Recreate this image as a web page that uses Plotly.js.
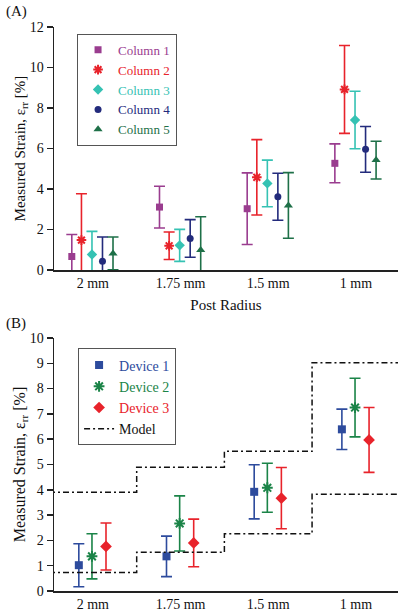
<!DOCTYPE html>
<html>
<head>
<meta charset="utf-8">
<script src="https://cdn.plot.ly/plotly-3.0.1.min.js"></script>
<style>html,body{margin:0;padding:0;background:#fff;}#chart{width:402px;height:612px;}</style>
</head>
<body>
<div id="chart"></div>
<script>
// ---- Data ----
var categories = ['2 mm', '1.75 mm', '1.5 mm', '1 mm'];

// Panel A: columns (mean and error)
var col1Mean = [0.67, 3.11, 3.03, 5.27];
var col1Err  = [1.09, 1.03, 1.77, 0.96];
var col2Mean = [1.48, 1.20, 4.58, 8.92];
var col2Err  = [2.29, 0.68, 1.86, 2.17];
var col3Mean = [0.77, 1.22, 4.28, 7.41];
var col3Err  = [1.14, 0.79, 1.15, 1.42];
var col4Mean = [0.43, 1.56, 3.62, 5.96];
var col4Err  = [1.20, 0.93, 1.16, 1.13];
var col5Mean = [0.82, 0.99, 3.19, 5.43];
var col5Err  = [0.81, 1.64, 1.62, 0.93];

// Panel B: devices (mean and error)
var dev1Mean = [1.02, 1.37, 3.92, 6.39];
var dev1Err  = [0.85, 0.80, 1.07, 0.80];
var dev2Mean = [1.37, 2.67, 4.08, 7.25];
var dev2Err  = [0.89, 1.09, 0.97, 1.16];
var dev3Mean = [1.76, 1.90, 3.67, 5.97];
var dev3Err  = [0.93, 0.94, 1.21, 1.28];

// Model bounds per category
var modelUpper = [3.90, 4.89, 5.52, 9.02];
var modelLower = [0.73, 1.53, 2.26, 3.82];

// ---- Helpers ----
var FONT = 'Liberation Serif, Times New Roman, serif';
var catIdx = categories.map(function (c, i) { return i + 1; });
function shifted(off) { return catIdx.map(function (v) { return v + off; }); }
function colored(name, color) { return '<span style="color:' + color + '">' + name + '</span>'; }

function errTrace(name, color, mean, err, off, symbol, xa, ya, legend, size) {
  var open = symbol.indexOf('open') >= 0;
  return {
    type: 'scatter', mode: 'markers', name: colored(name, color),
    x: shifted(off), y: mean, xaxis: xa, yaxis: ya, legend: legend,
    marker: { symbol: symbol, size: size || 7, color: color,
              line: { color: color, width: open ? 2 : 0 } },
    error_y: { type: 'data', array: err, visible: true, color: color, thickness: 1.6, width: 5.5 },
    hoverinfo: 'skip'
  };
}

var cA = { c1: '#9a3d8f', c2: '#e8232b', c3: '#35c2b3', c4: '#232b7c', c5: '#1e7048' };
var cB = { d1: '#2d4b9d', d2: '#1b8448', d3: '#e8232b' };

var traces = [
  errTrace('Column 1', cA.c1, col1Mean, col1Err, -0.24, 'square', 'x', 'y', 'legend', 7),
  errTrace('Column 2', cA.c2, col2Mean, col2Err, -0.13, 'asterisk-open', 'x', 'y', 'legend', 8),
  errTrace('Column 3', cA.c3, col3Mean, col3Err, -0.01, 'diamond', 'x', 'y', 'legend', 8),
  errTrace('Column 4', cA.c4, col4Mean, col4Err, 0.11, 'circle', 'x', 'y', 'legend', 7),
  errTrace('Column 5', cA.c5, col5Mean, col5Err, 0.23, 'triangle-up', 'x', 'y', 'legend', 8),
  errTrace('Device 1', cB.d1, dev1Mean, dev1Err, -0.16, 'square', 'x2', 'y2', 'legend2', 8),
  errTrace('Device 2', cB.d2, dev2Mean, dev2Err, -0.01, 'asterisk-open', 'x2', 'y2', 'legend2', 9),
  errTrace('Device 3', cB.d3, dev3Mean, dev3Err, 0.15, 'diamond', 'x2', 'y2', 'legend2', 9)
];

// Model step lines: edges between categories
var edges = [0.5].concat(catIdx.map(function (v) { return v + 0.5; }));
function stepY(arr) { return arr.concat([arr[arr.length - 1]]); }
var modelLine = { color: '#111', width: 1.5, dash: '6px,3px,2px,3px', shape: 'hv' };
traces.push({
  type: 'scatter', mode: 'lines', name: 'Model', x: edges, y: stepY(modelUpper),
  xaxis: 'x2', yaxis: 'y2', legend: 'legend2', line: modelLine, hoverinfo: 'skip'
});
traces.push({
  type: 'scatter', mode: 'lines', name: 'Model', x: edges, y: stepY(modelLower),
  xaxis: 'x2', yaxis: 'y2', legend: 'legend2', showlegend: false, line: modelLine, hoverinfo: 'skip'
});

var xRange = [0.557, 4.48];
function xAxis(anchor, title) {
  var ax = {
    anchor: anchor, range: xRange, tickmode: 'array', tickvals: catIdx, ticktext: categories,
    showline: true, linecolor: '#222', linewidth: 1.5, ticks: '', showgrid: false, zeroline: false,
    tickfont: { family: FONT, size: 14, color: '#111' }
  };
  if (title) ax.title = { text: title, font: { family: FONT, size: 15, color: '#111' }, standoff: 9 };
  return ax;
}
function yAxis(anchor, domain, range, dtick, tsize) {
  return {
    anchor: anchor, domain: domain, range: range, dtick: dtick, tick0: 0,
    showline: true, linecolor: '#222', linewidth: 1.5, ticks: 'outside', ticklen: 6, tickwidth: 1.5,
    tickcolor: '#222', showgrid: false, zeroline: false,
    tickfont: { family: FONT, size: 14, color: '#111' },
    title: { text: 'Measured Strain, ε<sub>rr</sub> [%]', font: { family: FONT, size: tsize, color: '#111' }, standoff: 0 }
  };
}

var layout = {
  width: 402, height: 612,
  margin: { l: 54, r: 4, t: 27, b: 21 },
  paper_bgcolor: '#fff', plot_bgcolor: '#fff',
  font: { family: FONT, color: '#111' },
  xaxis: xAxis('y', 'Post Radius'),
  yaxis: yAxis('x', [0.569, 1], [0, 12], 2, 15),
  xaxis2: xAxis('y2', null),
  yaxis2: yAxis('x2', [0, 0.4486], [0, 10], 1, 16),
  legend: {
    x: 0.067, y: 0.988, xanchor: 'left', yanchor: 'top',
    bgcolor: '#fff', bordercolor: '#555', borderwidth: 1,
    font: { family: FONT, size: 13 }, itemwidth: 30, tracegroupgap: 0
  },
  legend2: {
    x: 0.07, y: 0.43, xanchor: 'left', yanchor: 'top',
    bgcolor: '#fff', bordercolor: '#555', borderwidth: 1,
    font: { family: FONT, size: 14 }, itemwidth: 30, tracegroupgap: 0
  },
  showlegend: true,
  annotations: [
    { text: '(A)', xref: 'paper', yref: 'paper', x: -0.145, y: 1.027, xanchor: 'left', yanchor: 'middle',
      showarrow: false, font: { family: FONT, size: 15, color: '#111' } },
    { text: '(B)', xref: 'paper', yref: 'paper', x: -0.145, y: 0.474, xanchor: 'left', yanchor: 'middle',
      showarrow: false, font: { family: FONT, size: 15, color: '#111' } }
  ]
};

Plotly.newPlot('chart', traces, layout, { staticPlot: true, displayModeBar: false });
</script>
</body>
</html>
